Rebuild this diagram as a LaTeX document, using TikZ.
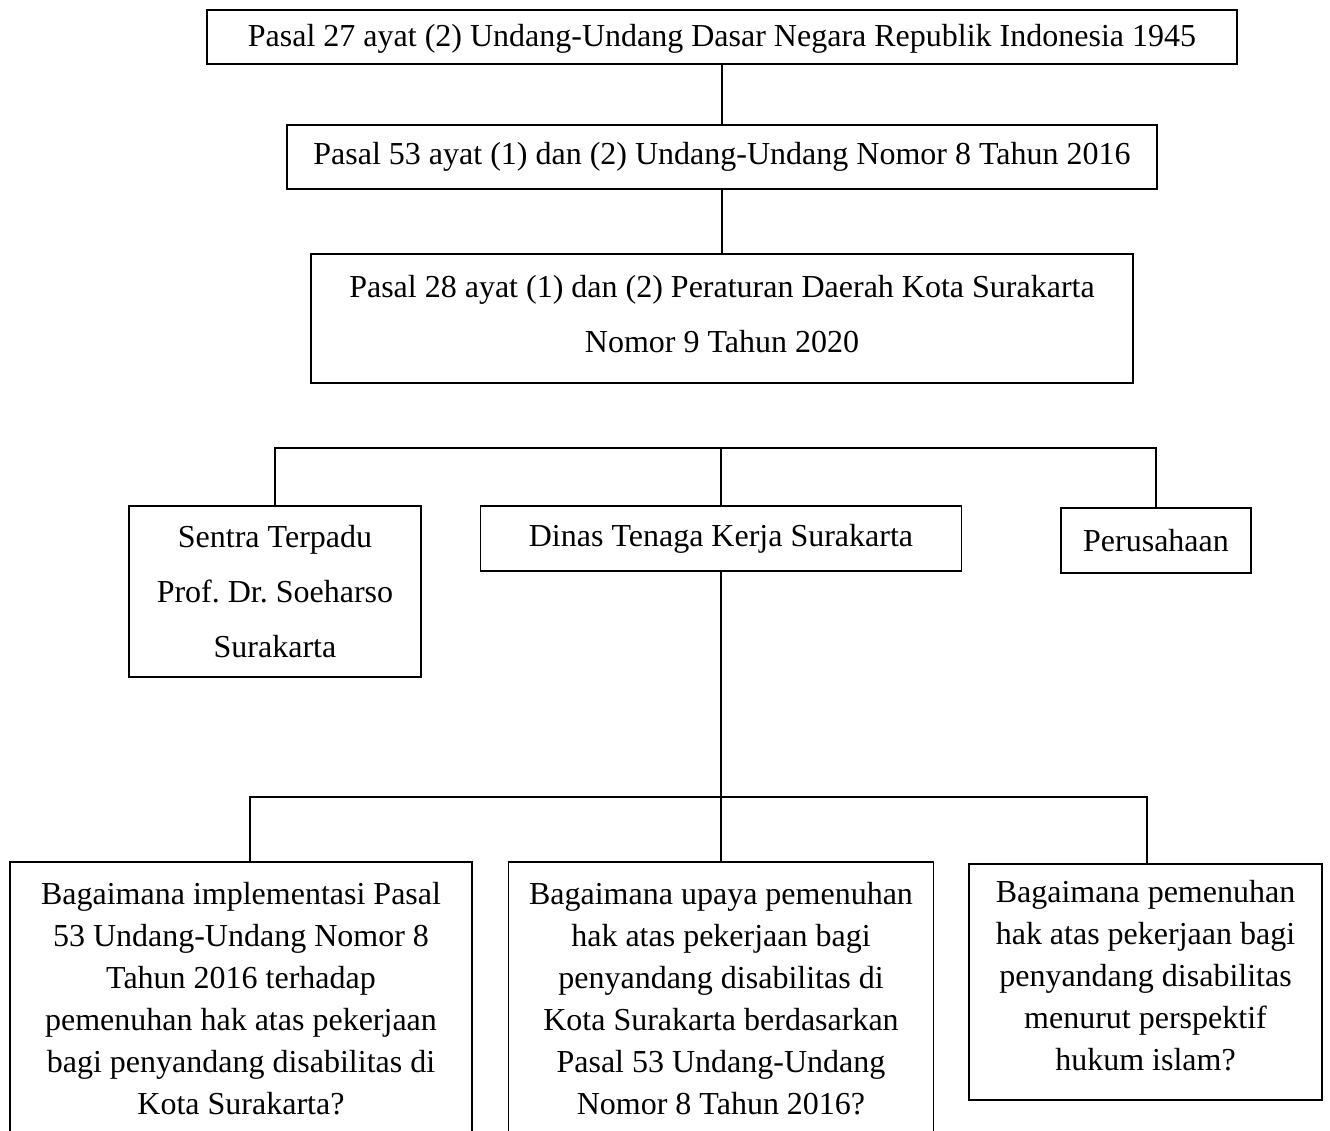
\documentclass[tikz,border=0pt]{standalone}
\usepackage{fontspec}
\setmainfont{Liberation Serif}
\frenchspacing
\tikzset{
  kotak/.style={draw, line width=1.2pt, inner sep=0pt, align=center,
    font=\fontsize{32}{42}\selectfont},
  kotaklebar/.style={kotak, font=\fontsize{32}{55}\selectfont},
  garis/.style={line width=1.2pt}
}
\begin{document}
\begin{tikzpicture}[x=1pt,y=-1pt]
      \clip (0,0) rectangle (1330,1131);
      \fill[white] (0,0) rectangle (1330,1131);
      \draw
        (722,37) node[kotak, minimum width=1030pt, minimum height=54pt,
            text height=20pt, text depth=0pt] (uud)
          {Pasal 27 ayat (2) Undang-Undang Dasar Negara Republik Indonesia 1945}
        (722,157) node[kotak, minimum width=870pt, minimum height=64pt] (uu8)
          {Pasal 53 ayat (1) dan (2) Undang-Undang Nomor 8 Tahun 2016}
        (722,318.5) node[kotaklebar, minimum width=822pt, minimum height=129pt] (perda)
          {Pasal 28 ayat (1) dan (2) Peraturan Daerah Kota Surakarta\\Nomor 9 Tahun 2020\\[-45pt]\mbox{}}
        (275,591.5) node[kotaklebar, minimum width=292pt, minimum height=171pt] (sentra)
          {Sentra Terpadu\\Prof. Dr. Soeharso\\Surakarta}
        (721,538.5) node[kotak, minimum width=481pt, minimum height=65pt] (disnaker)
          {Dinas Tenaga Kerja Surakarta}
        (1156,540.5) node[kotak, minimum width=190pt, minimum height=65pt] (perusahaan)
          {Perusahaan}
        (250,998.5) node[kotak, minimum width=462pt, minimum height=273pt, xshift=-9pt] (soal1)
          {Bagaimana implementasi Pasal\\53 Undang-Undang Nomor 8\\Tahun 2016 terhadap\\pemenuhan hak atas pekerjaan\\bagi penyandang disabilitas di\\Kota Surakarta?}
        (721,998.5) node[kotak, minimum width=425pt, minimum height=273pt] (soal2)
          {Bagaimana upaya pemenuhan\\hak atas pekerjaan bagi\\penyandang disabilitas di\\Kota Surakarta berdasarkan\\Pasal 53 Undang-Undang\\Nomor 8 Tahun 2016?}
        (1147,982) node[kotak, minimum width=353pt, minimum height=236pt, xshift=-1.5pt] (soal3)
          {Bagaimana pemenuhan\\hak atas pekerjaan bagi\\penyandang disabilitas\\menurut perspektif\\hukum islam?\\[-28pt]\mbox{}};
      \coordinate (cabangA) at (275,448);
      \coordinate (cabangB) at (1156,448);
      \coordinate (cabangC) at (250,797);
      \coordinate (cabangD) at (1147,797);
      \begin{scope}[garis]
        \draw (uud) to (uu8);
        \draw (uu8) to (perda);
        \draw (sentra.north) -- (cabangA) -- (cabangB) -- (perusahaan.north);
        \draw (disnaker.north) -- (disnaker.north |- cabangA);
        \draw (disnaker.south) -- (disnaker.south |- cabangC);
        \draw (cabangC |- soal1.north) -- (cabangC) -- (cabangD) -- (cabangD |- soal3.north);
        \draw (soal2.north) -- (soal2.north |- cabangC);
      \end{scope}
    \end{tikzpicture}
\end{document}
